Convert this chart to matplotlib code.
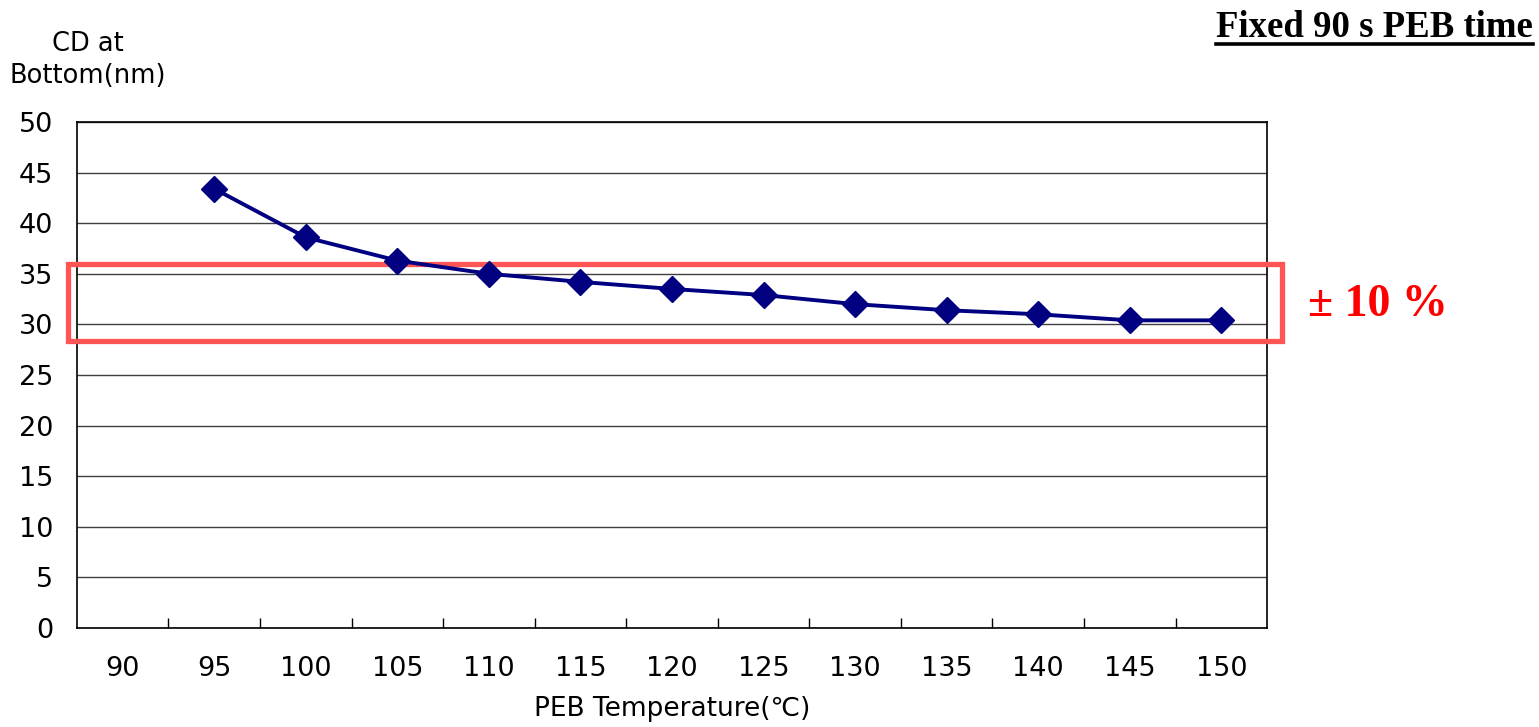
import numpy as np
import matplotlib.pyplot as plt
from matplotlib.patches import Rectangle
import matplotlib.transforms as mtransforms

plt.rcParams['font.family'] = ['DejaVu Sans', 'Noto Sans CJK KR']

temps = [90, 95, 100, 105, 110, 115, 120, 125, 130, 135, 140, 145, 150]
meas_temps = [95, 100, 105, 110, 115, 120, 125, 130, 135, 140, 145, 150]
cd_bottom = [43.4, 38.6, 36.3, 35.0, 34.2, 33.5, 32.9, 32.0, 31.4, 31.0, 30.4, 30.4]
band_lo, band_hi = 28.4, 36.0

fig = plt.figure(figsize=(15.39, 7.27), dpi=100)
ax = fig.add_axes([0.050, 0.1362, 0.7733, 0.696])

xpos = [temps.index(t) for t in meas_temps]
ax.plot(xpos, cd_bottom, color='#000080', lw=2.8, marker='D', ms=13,
        zorder=4, clip_on=False)

ax.set_xlim(-0.5, len(temps) - 0.5)
ax.set_ylim(0, 50)
ax.set_yticks(np.arange(0, 51, 5))
ax.set_xticks(range(len(temps)))
ax.set_xticklabels([str(t) for t in temps])
ax.set_xticks(np.arange(0.5, len(temps) - 1, 1), minor=True)
ax.tick_params(axis='x', which='major', length=0, pad=20, labelsize=19.5)
ax.tick_params(axis='x', which='minor', direction='in', length=7, width=1, color='black')
ax.tick_params(axis='y', length=0, pad=17, labelsize=19.5)
ax.grid(axis='y', color='#404040', lw=1)
ax.set_axisbelow(True)
for s in ax.spines.values():
    s.set_color('black')
    s.set_linewidth(1.2)

# +/-10% band
trans = mtransforms.blended_transform_factory(ax.transAxes, ax.transData)
ax.add_patch(Rectangle((-0.0076, band_lo), 1.0202, band_hi - band_lo, transform=trans,
                       fill=False, ec='#FF5555', lw=3.8, clip_on=False, zorder=3))
fig.text(0.850, 0.580, '± 10 %', color='red', fontsize=33, fontweight='bold',
         family='Liberation Serif', ha='left', va='center')

ax.set_xlabel('PEB Temperature(℃)', fontsize=19, labelpad=10)
fig.text(0.057, 0.918, 'CD at\nBottom(nm)', fontsize=18.5, ha='center', va='center',
         linespacing=1.3)

title = fig.text(0.996, 0.962, 'Fixed 90 s PEB time', fontsize=26.5, fontweight='bold',
                 family='Liberation Serif', ha='right', va='center')
bb = title.get_window_extent(renderer=fig.canvas.get_renderer())
x0 = bb.x0 / fig.bbox.width
fig.add_artist(plt.Line2D([x0, 0.996], [0.940, 0.940], color='black', lw=2.6))

fig.savefig('out.png', dpi=100)
